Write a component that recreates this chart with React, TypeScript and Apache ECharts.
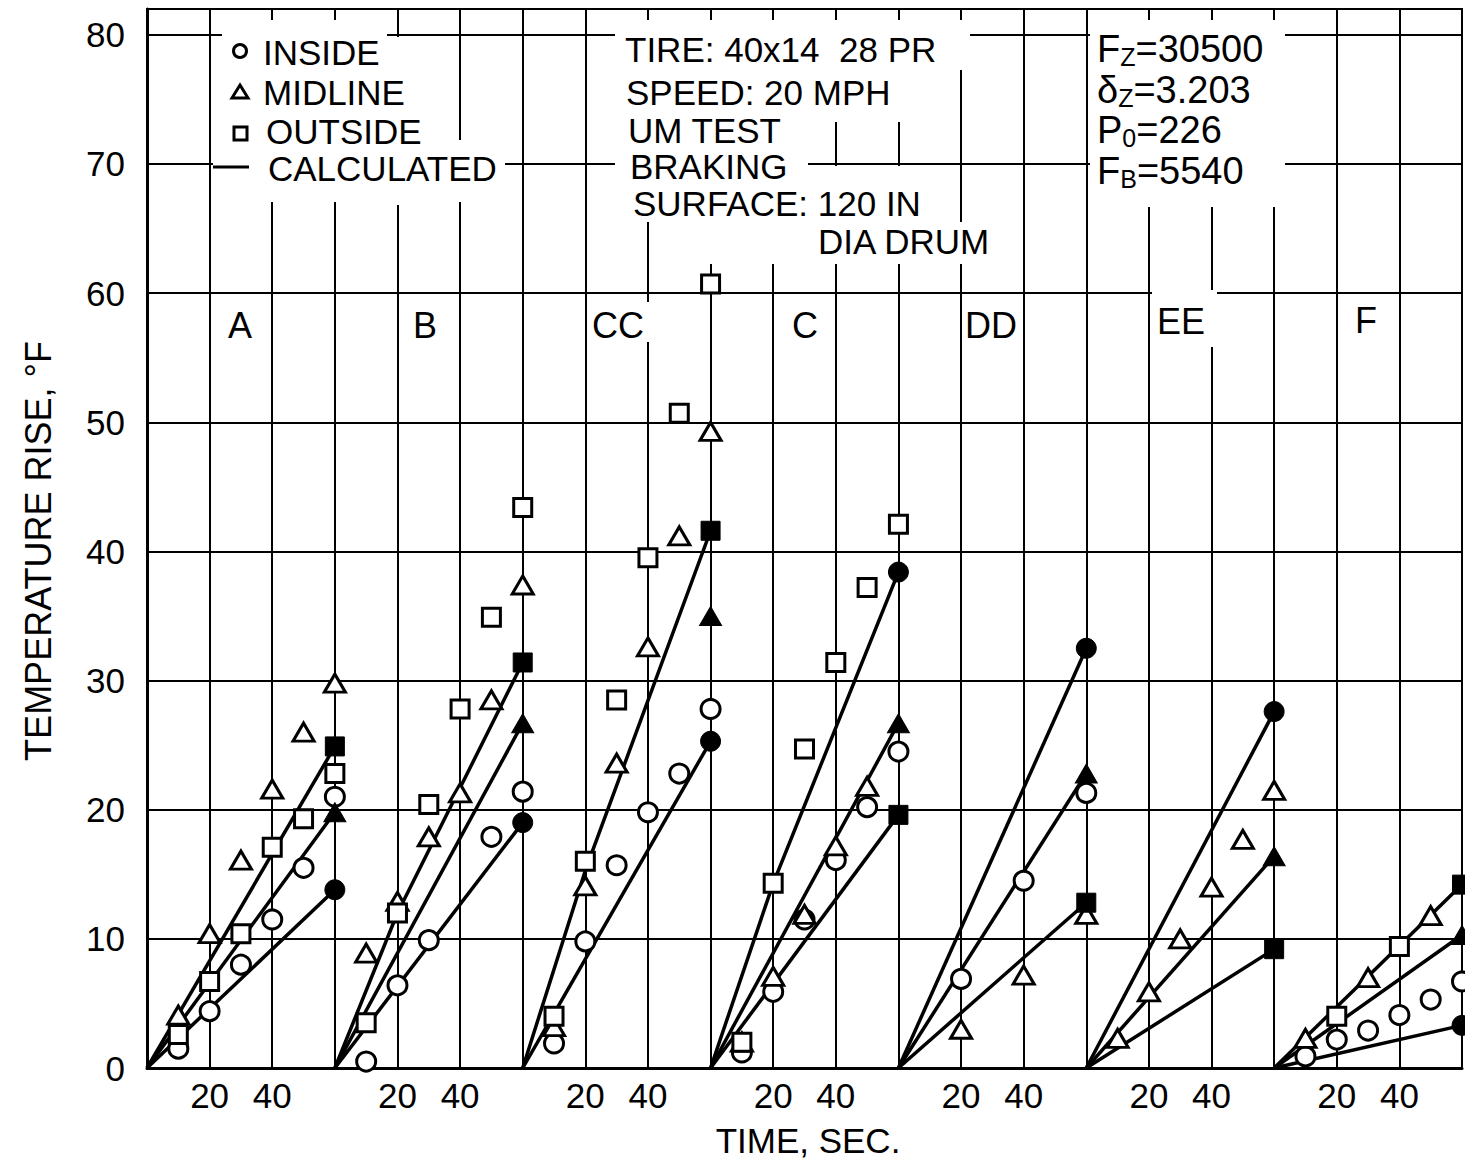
import React, { useEffect, useRef } from 'react';
import * as echarts from 'echarts';

// Seven braking runs drawn side by side, each run spanning 60 s of the time axis.
const panelLabels = ['A', 'B', 'CC', 'C', 'DD', 'EE', 'F'];
const panelLength = 60;
const sampleTimes = [10, 20, 30, 40, 50, 60];

// Measured temperature rise (°F) at the sample times, one row per run.
const insideMeasured: (number | null)[][] = [
  [1.5, 4.4, 8.0, 11.5, 15.5, 21.0],
  [0.5, 6.4, 9.9, null, 17.9, 21.4],
  [1.9, 9.8, 15.7, 19.8, 22.8, 27.8],
  [1.2, 5.9, 11.5, 16.1, 20.2, 24.5],
  [null, 6.9, null, 14.5, null, 21.3],
  [null, null, null, null, null, null],
  [0.9, 2.2, 2.9, 4.1, 5.3, 6.7],
];
const midlineMeasured: (number | null)[][] = [
  [4.1, 10.4, 16.1, 21.6, 26.0, 29.8],
  [8.9, 12.9, 17.9, 21.3, 28.5, 37.4],
  [3.2, 14.1, 23.6, 32.6, 41.2, 49.3],
  [2.0, 7.1, 11.9, 17.2, 21.8, null],
  [null, 3.0, null, 7.2, null, 11.9],
  [2.3, 5.9, 10.0, 14.0, 17.7, 21.5],
  [2.3, null, 7.0, null, 11.8, null],
];
const outsideMeasured: (number | null)[][] = [
  [2.6, 6.7, 10.4, 17.1, 19.3, 22.8],
  [3.5, 12.0, 20.4, 27.8, 34.9, 43.4],
  [4.0, 16.0, 28.5, 39.5, 50.7, 60.7],
  [2.0, 14.3, 24.7, 31.4, 37.2, 42.1],
  [null, null, null, null, null, null],
  [null, null, null, null, null, null],
  [null, 4.0, null, 9.4, null, null],
];

// Calculated rise at the end of each run (60 s).
const insideCalcEnd = [13.8, 19.0, 25.3, 38.4, 32.5, 27.6, 3.3];
const midlineCalcEnd = [19.8, 26.7, 35.0, 26.7, 22.8, 16.4, 10.3];
const outsideCalcEnd = [24.9, 31.4, 41.6, 19.6, 12.8, 9.2, 14.2];

// Intermediate points [t, rise] of the calculated curves; null = no curve drawn.
const insideCalcBends: ([number, number][] | null)[] = [[], [], [], [[20, 14.3]], [], [], []];
const midlineCalcBends: ([number, number][] | null)[] = [[], [], null, [], [], [], []];
const outsideCalcBends: ([number, number][] | null)[] = [[], [[20, 12.0]], [[20, 15.3]], [], [], [], []];

const yTicks = [0, 10, 20, 30, 40, 50, 60, 70, 80];
const xTickLabels = [20, 40];

const FONT = '"Liberation Sans", Arial, sans-serif';
const INK = '#000';

function measuredPoints(rows: (number | null)[][]) {
  const pts: number[][] = [];
  rows.forEach((row, p) =>
    row.forEach((v, i) => {
      if (v != null) pts.push([p * panelLength + sampleTimes[i], v]);
    })
  );
  return pts;
}

function calcLines(name: string, ends: number[], bends: ([number, number][] | null)[]) {
  const out: any[] = [];
  ends.forEach((end, p) => {
    const mid = bends[p];
    if (mid === null) return;
    const base = p * panelLength;
    out.push({
      type: 'line',
      name,
      data: [[base, 0], ...mid.map(([t, v]) => [base + t, v]), [base + panelLength, end]],
      symbol: 'none',
      silent: true,
      lineStyle: { color: INK, width: 3.5 },
      z: 3,
    });
  });
  return out;
}

function endPoints(ends: number[]) {
  return ends.map((v, p) => [(p + 1) * panelLength, v]);
}

const openStyle = { color: '#fff', borderColor: INK, borderWidth: 3, opacity: 1 };
const filledStyle = { color: INK, borderColor: INK, borderWidth: 1, opacity: 1 };

const txt = (text: string, x: number, y: number, size = 35, extra: any = {}) => ({
  type: 'text',
  x,
  y,
  z: 6,
  silent: true,
  style: {
    text,
    fill: INK,
    font: `${size}px ${FONT}`,
    lineHeight: size - 2,
    verticalAlign: 'middle',
    align: 'left',
    ...extra,
  },
});

const mask = (x: number, y: number, width: number, height: number) => ({
  type: 'rect',
  z: 1,
  silent: true,
  shape: { x, y, width, height },
  style: { fill: '#fff' },
});

const subRich = {
  m: { fontSize: 38, fontFamily: FONT, color: INK, lineHeight: 40 },
  s: { fontSize: 25, fontFamily: FONT, color: INK, lineHeight: 16, verticalAlign: 'bottom' },
};

const panelLabelPos = [
  [240, 325],
  [425, 325],
  [618, 325],
  [805, 325],
  [991, 325],
  [1181, 321],
  [1366, 320],
];

const graphicElements: any[] = [
  // white cut-outs behind the lettering
  mask(222, 20, 165, 52),
  mask(392, 37, 12, 168),
  mask(213, 72, 200, 68),
  mask(213, 140, 292, 62),
  mask(615, 20, 355, 50),
  mask(615, 70, 292, 52),
  mask(615, 122, 180, 28),
  mask(615, 150, 193, 32),
  mask(820, 166, 105, 16),
  mask(620, 182, 305, 40),
  mask(655, 222, 340, 42),
  mask(1090, 20, 195, 187),
  mask(588, 302, 64, 40),
  mask(1152, 290, 65, 57),

  // key
  { type: 'circle', z: 6, shape: { cx: 240, cy: 51, r: 6.5 }, style: { fill: '#fff', stroke: INK, lineWidth: 3 } },
  {
    type: 'polygon',
    z: 6,
    shape: { points: [[240, 85], [248, 98], [232, 98]] },
    style: { fill: '#fff', stroke: INK, lineWidth: 3 },
  },
  { type: 'rect', z: 6, shape: { x: 234, y: 127, width: 13, height: 13 }, style: { fill: '#fff', stroke: INK, lineWidth: 3 } },
  { type: 'line', z: 6, shape: { x1: 213, y1: 167, x2: 249, y2: 167 }, style: { stroke: INK, lineWidth: 3 } },
  txt('INSIDE', 263, 52),
  txt('MIDLINE', 263, 92),
  txt('OUTSIDE', 266, 131),
  txt('CALCULATED', 268, 168),

  // test conditions
  txt('TIRE: 40x14  28 PR', 625, 49),
  txt('SPEED: 20 MPH', 626, 92),
  txt('UM TEST', 628, 130),
  txt('BRAKING', 630, 166),
  txt('SURFACE: 120 IN', 633, 203),
  txt('DIA DRUM', 818, 241),

  // loads
  { ...txt('', 1097, 49), style: { text: '{m|F}{s|Z}{m|=30500}', rich: subRich, verticalAlign: 'middle', align: 'left' } },
  { ...txt('', 1097, 90), style: { text: '{m|δ}{s|Z}{m|=3.203}', rich: subRich, verticalAlign: 'middle', align: 'left' } },
  { ...txt('', 1097, 130), style: { text: '{m|P}{s|0}{m|=226}', rich: subRich, verticalAlign: 'middle', align: 'left' } },
  { ...txt('', 1097, 171), style: { text: '{m|F}{s|B}{m|=5540}', rich: subRich, verticalAlign: 'middle', align: 'left' } },

  // run labels
  ...panelLabels.map((label, i) => txt(label, panelLabelPos[i][0], panelLabelPos[i][1], 36, { align: 'center' })),

  // axis titles
  {
    ...txt('TEMPERATURE RISE, °F', 38, 551, 36, { align: 'center' }),
    rotation: Math.PI / 2,
  },
  txt('TIME, SEC.', 808, 1140, 35, { align: 'center' }),
];

function buildOption() {
  return {
    animation: false,
    backgroundColor: '#fff',
    grid: {
      left: 147,
      right: 3,
      top: 9,
      bottom: 100,
      show: true,
      borderColor: INK,
      borderWidth: 2,
      backgroundColor: 'transparent',
    },
    xAxis: {
      type: 'value',
      min: 0,
      max: panelLength * panelLabels.length,
      interval: 20,
      axisLine: { show: true, onZero: false, lineStyle: { color: INK, width: 3 } },
      axisTick: { show: false },
      splitLine: { show: true, lineStyle: { color: INK, width: 2 } },
      axisLabel: {
        color: INK,
        fontSize: 35,
        fontFamily: FONT,
        margin: 10,
        showMinLabel: false,
        showMaxLabel: false,
        formatter: (v: number) => (xTickLabels.includes(v % panelLength) ? String(v % panelLength) : ''),
      },
    },
    yAxis: {
      type: 'value',
      min: 0,
      max: 82,
      interval: 10,
      axisLine: { show: true, lineStyle: { color: INK, width: 3 } },
      axisTick: { show: false },
      splitLine: { show: true, lineStyle: { color: INK, width: 2 } },
      axisLabel: {
        color: INK,
        fontSize: 35,
        fontFamily: FONT,
        margin: 22,
        showMaxLabel: false,
        formatter: (v: number) => (yTicks.includes(v) ? String(v) : ''),
      },
    },
    graphic: { elements: graphicElements },
    series: [
      ...calcLines('INSIDE calculated', insideCalcEnd, insideCalcBends),
      ...calcLines('MIDLINE calculated', midlineCalcEnd, midlineCalcBends),
      ...calcLines('OUTSIDE calculated', outsideCalcEnd, outsideCalcBends),
      {
        type: 'scatter',
        name: 'INSIDE',
        data: measuredPoints(insideMeasured),
        symbol: 'circle',
        symbolSize: 19,
        itemStyle: openStyle,
        z: 5,
      },
      {
        type: 'scatter',
        name: 'MIDLINE',
        data: measuredPoints(midlineMeasured),
        symbol: 'triangle',
        symbolSize: [21, 18],
        itemStyle: openStyle,
        z: 5,
      },
      {
        type: 'scatter',
        name: 'OUTSIDE',
        data: measuredPoints(outsideMeasured),
        symbol: 'rect',
        symbolSize: 18,
        itemStyle: openStyle,
        z: 5,
      },
      {
        type: 'scatter',
        name: 'INSIDE end',
        data: endPoints(insideCalcEnd),
        symbol: 'circle',
        symbolSize: 20,
        itemStyle: filledStyle,
        z: 6,
      },
      {
        type: 'scatter',
        name: 'MIDLINE end',
        data: endPoints(midlineCalcEnd),
        symbol: 'triangle',
        symbolSize: [22, 19],
        itemStyle: filledStyle,
        z: 6,
      },
      {
        type: 'scatter',
        name: 'OUTSIDE end',
        data: endPoints(outsideCalcEnd),
        symbol: 'rect',
        symbolSize: 19,
        itemStyle: filledStyle,
        z: 6,
      },
    ],
  };
}

export default function App() {
  const ref = useRef<HTMLDivElement>(null);
  useEffect(() => {
    if (!ref.current) return;
    const chart = echarts.init(ref.current, null, { renderer: 'svg' });
    chart.setOption(buildOption() as any);
    return () => chart.dispose();
  }, []);
  return (
    <div
      ref={ref}
      style={{ position: 'fixed', left: 0, top: 0, width: 1465, height: 1168, background: '#fff' }}
    />
  );
}
